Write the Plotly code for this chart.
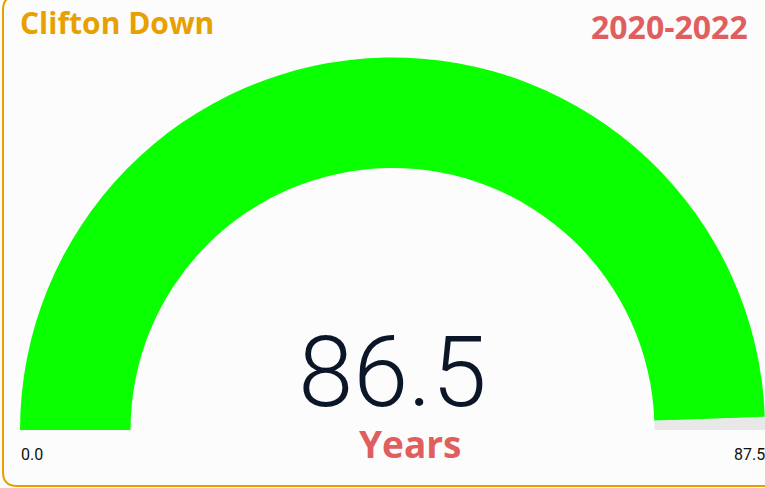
import plotly.graph_objects as go

# Data
station = "Clifton Down"
period = "2020-2022"
unit = "Years"
value = 86.5
range_min = 0.0
range_max = 87.5

W, H = 765, 488

GREEN = "#0AFF00"
TRACK = "#E8E8E8"
ORANGE = "#E8A000"
RED = "#E05E5E"


def px_x(v):
    return v / W


def px_y(v):
    return 1 - v / H


def gauge(x0, x1, y_bottom, y_top, show_number):
    # plotly's gauge band is only a quarter of the radius, so two are stacked
    return go.Indicator(
        mode="gauge+number" if show_number else "gauge",
        value=value,
        number=dict(font=dict(family="Roboto", size=99, color="#0B1628", weight=300),
                    valueformat=".1f"),
        domain=dict(x=[px_x(x0), px_x(x1)], y=[px_y(y_bottom), px_y(y_top)]),
        gauge=dict(
            shape="angular",
            axis=dict(range=[range_min, range_max], visible=False),
            bar=dict(color=GREEN, thickness=1, line=dict(width=0)),
            bgcolor="rgba(0,0,0,0)",
            borderwidth=0,
            steps=[dict(range=[value, range_max], color=TRACK, thickness=1,
                        line=dict(width=0))],
        ),
    )


fig = go.Figure()
fig.add_trace(gauge(20, 765, 430, 57.5, True))       # outer band
fig.add_trace(gauge(43.2, 741.8, 430, 80.7, False))  # inner band

txt_font = "Open Sans"
annotations = [
    dict(text=f"<b>{station}</b>", x=px_x(18), y=px_y(0), xanchor="left", yanchor="top",
         font=dict(family=txt_font, size=30, color=ORANGE)),
    dict(text=f"<b>{period}</b>", x=px_x(750), y=px_y(3), xanchor="right", yanchor="top",
         font=dict(family=txt_font, size=32, color=RED)),
    dict(text=f"<b>{unit}</b>", x=px_x(410), y=px_y(443), xanchor="center", yanchor="middle",
         font=dict(family=txt_font, size=37, color=RED)),
    dict(text=f"{range_min:.1f}", x=px_x(19), y=px_y(454), xanchor="left", yanchor="middle",
         font=dict(family="Roboto", size=16, color="#111111")),
    dict(text=f"{range_max:.1f}", x=px_x(767), y=px_y(454), xanchor="right", yanchor="middle",
         font=dict(family="Roboto", size=16, color="#111111")),
]
for a in annotations:
    a.update(xref="paper", yref="paper", showarrow=False)

# rounded orange frame, running off the top and right edges
x0, x1 = px_x(3), px_x(790)
y0, y1 = px_y(-4), px_y(486)
rx, ry = 14 / W, 14 / H
frame = (f"M {x1},{y0} L {x0 + rx},{y0} Q {x0},{y0} {x0},{y0 - ry} "
         f"L {x0},{y1 + ry} Q {x0},{y1} {x0 + rx},{y1} L {x1},{y1}")

fig.update_layout(
    width=W, height=H,
    margin=dict(l=0, r=0, t=0, b=0),
    paper_bgcolor="#FCFCFC",
    annotations=annotations,
    shapes=[dict(type="path", path=frame, xref="paper", yref="paper",
                 line=dict(color=ORANGE, width=2))],
)

fig.write_html("out.html", config={"displayModeBar": False},
               post_script="document.body.style.margin='0';")
